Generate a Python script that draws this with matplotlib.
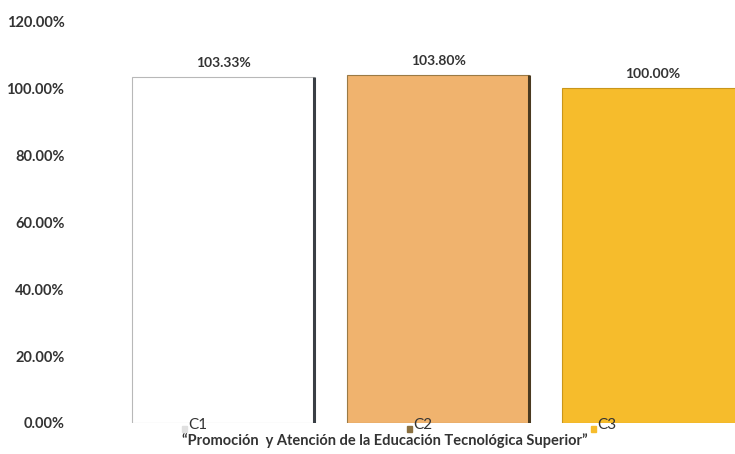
import matplotlib.pyplot as plt
from matplotlib.patches import Rectangle

# data
categories = ["C1", "C2", "C3"]
values = [103.33, 103.80, 100.00]
colors = ["#FFFFFF", "#F0B36E", "#F6BC2C"]
edge_dark = ["#3A3F45", "#4A3A20", "#6A5010"]
yticks = [0, 20, 40, 60, 80, 100, 120]
caption = "\u201cPromoción  y Atención de la Educación Tecnológica Superior\u201d"

plt.rcParams['font.family'] = ['Lato', 'DejaVu Sans']

fig = plt.figure(figsize=(7.35, 4.54), dpi=100)
ax = fig.add_axes([70 / 735, 31 / 454, 665 / 735, 423 / 454])

x = list(range(len(categories)))
bars = ax.bar(x, values, width=0.847, color=colors,
              edgecolor=["#B8B8B8", "#9A7A45", "#C9961A"], linewidth=0.8)

# darker right edge like the 3D bevel
for xi, v, ec in zip(x, values, edge_dark):
    ax.plot([xi + 0.4235, xi + 0.4235], [0, v], color=ec, lw=2.2, solid_capstyle="butt")

for xi, v in zip(x, values):
    ax.text(xi, v + 2.5, f"{v:.2f}%", ha="center", va="bottom",
            fontsize=10, fontweight="bold", color="#333333")

ax.set_xlim(-0.712, 2.381)
ax.set_ylim(0, 126.3)
ax.set_yticks(yticks)
ax.set_yticklabels([f"{t:.2f}%" for t in yticks], fontsize=10.5, fontweight="bold", color="#333333")
ax.tick_params(axis="y", length=0, pad=4)
ax.set_xticks([])
for s in ax.spines.values():
    s.set_visible(False)

# legend entries under the bars
legend_x = [188, 413, 597]
marker_colors = ["#E0E0E0", "#8A7040", "#F6BC2C"]
for lx, lab, mc in zip(legend_x, categories, marker_colors):
    fig.patches.append(Rectangle(((lx - 6) / 735, 1 - 432 / 454), 5 / 735, 6 / 454,
                                 transform=fig.transFigure, color=mc))
    fig.text((lx - 0) / 735, 1 - 425 / 454, lab, fontsize=11, color="#333333",
             ha="left", va="center")

fig.text(385 / 735, 1 - 441 / 454, caption, ha="center", va="center",
         fontsize=10.5, fontweight="bold", color="#333333")

fig.savefig("out.png", dpi=100)
